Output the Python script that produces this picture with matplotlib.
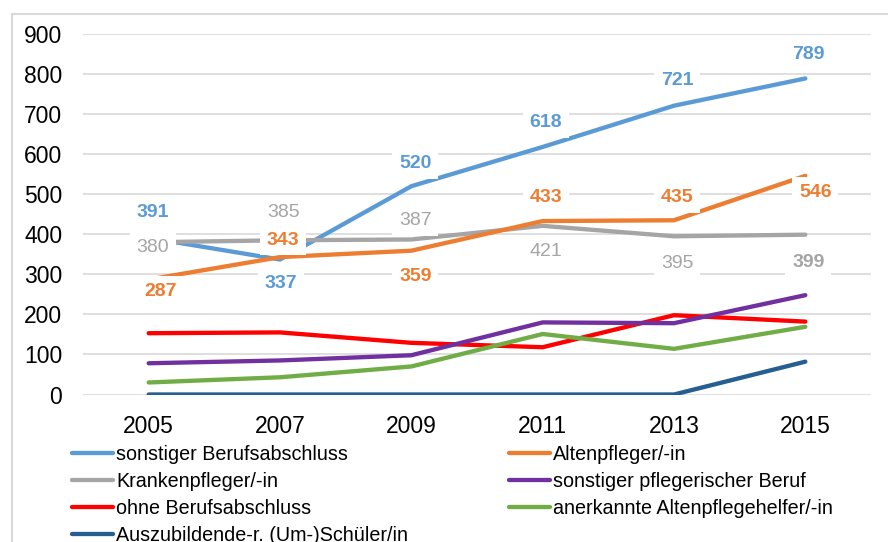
import matplotlib
matplotlib.use("Agg")
import matplotlib.pyplot as plt
from matplotlib.patches import Rectangle

plt.rcParams['font.family'] = ['Liberation Sans', 'DejaVu Sans']

years = ["2005", "2007", "2009", "2011", "2013", "2015"]

sonstiger_berufsabschluss = [391, 337, 520, 618, 721, 789]
altenpfleger = [287, 343, 359, 433, 435, 546]
krankenpfleger = [380, 385, 387, 421, 395, 399]
sonstiger_pflegerischer = [78, 85, 98, 180, 178, 248]
ohne_berufsabschluss = [153, 155, 129, 118, 198, 182]
altenpflegehelfer = [30, 43, 70, 151, 114, 169]
auszubildende = [0, 0, 0, 0, 0, 82]

series = [
    ("sonstiger Berufsabschluss", sonstiger_berufsabschluss, "#5B9BD5"),
    ("Krankenpfleger/-in", krankenpfleger, "#A5A5A5"),
    ("ohne Berufsabschluss", ohne_berufsabschluss, "#FF0000"),
    ("Auszubildende-r. (Um-)Schüler/in", auszubildende, "#255E91"),
    ("Altenpfleger/-in", altenpfleger, "#ED7D31"),
    ("sonstiger pflegerischer Beruf", sonstiger_pflegerischer, "#7030A0"),
    ("anerkannte Altenpflegehelfer/-in", altenpflegehelfer, "#70AD47"),
]

# label offsets in pixels (dx, dy) and weights
blue_off = [(4, 25), (1, -24), (4, 23), (3, 24), (3, 25), (3, 24)]
orange_off = [(12, -12), (3, 17), (4, -26), (3, 24), (3, 23), (10, -17)]
grey_off = [(4, -5), (4, 28), (4, 19), (3, -26), (3, -27), (3, -28)]
grey_weight = ["normal"] * 5 + ["bold"]

fig = plt.figure(figsize=(8.88, 5.42), dpi=100)
fig.patches.append(Rectangle((12/888, -0.1), 1.2, 1.1 - 14/542, transform=fig.transFigure,
                             fill=False, edgecolor="#D9D9D9", linewidth=1.5))
ax = fig.add_axes([83/888, 1 - 394.5/542, (871-83)/888, (394.5-34)/542])

x = list(range(len(years)))
draw_order = [3, 6, 5, 2, 1, 4, 0]
lines = {}
for i in draw_order:
    name, vals, col = series[i]
    ln, = ax.plot(x, vals, color=col, lw=3.1, label=name, solid_capstyle='round', zorder=3 + i * 0.01)
    lines[i] = ln

def label(vals, offs, col, weights):
    for xi, v, (dx, dy), w in zip(x, vals, offs, weights):
        ax.annotate(str(v), (xi, v), xytext=(dx, dy), textcoords='offset pixels',
                    ha='center', va='center', fontsize=14, color=col, fontweight=w,
                    bbox=dict(boxstyle='square,pad=0.35', fc='white', ec='none'), zorder=5)

label(krankenpfleger, grey_off, "#A5A5A5", grey_weight)
label(altenpfleger, orange_off, "#ED7D31", ["bold"] * 6)
label(sonstiger_berufsabschluss, blue_off, "#5B9BD5", ["bold"] * 6)

ax.set_xlim(-0.5, len(years) - 0.5)
ax.set_ylim(0, 900)
ax.set_yticks(range(0, 901, 100))
ax.set_xticks(x)
ax.set_xticklabels(years)
ax.grid(axis='y', color='#D9D9D9', lw=1.2, zorder=0)
ax.set_axisbelow(True)
for s in ax.spines.values():
    s.set_visible(False)
ax.tick_params(axis='both', length=0, labelsize=16.5)
ax.tick_params(axis='y', pad=15)
ax.tick_params(axis='x', pad=15)

leg = fig.legend([lines[i] for i in range(7)], [s[0] for s in series],
                 loc='upper left', bbox_to_anchor=(72/888, 1 - 445/542), ncol=2,
                 frameon=False, fontsize=14.2, borderpad=0, borderaxespad=0,
                 handlelength=2.1, handletextpad=0.15, labelspacing=0.4, columnspacing=5.1)
for t in leg.get_texts():
    t.set_color('#000000')

fig.savefig("out.png", dpi=100)
